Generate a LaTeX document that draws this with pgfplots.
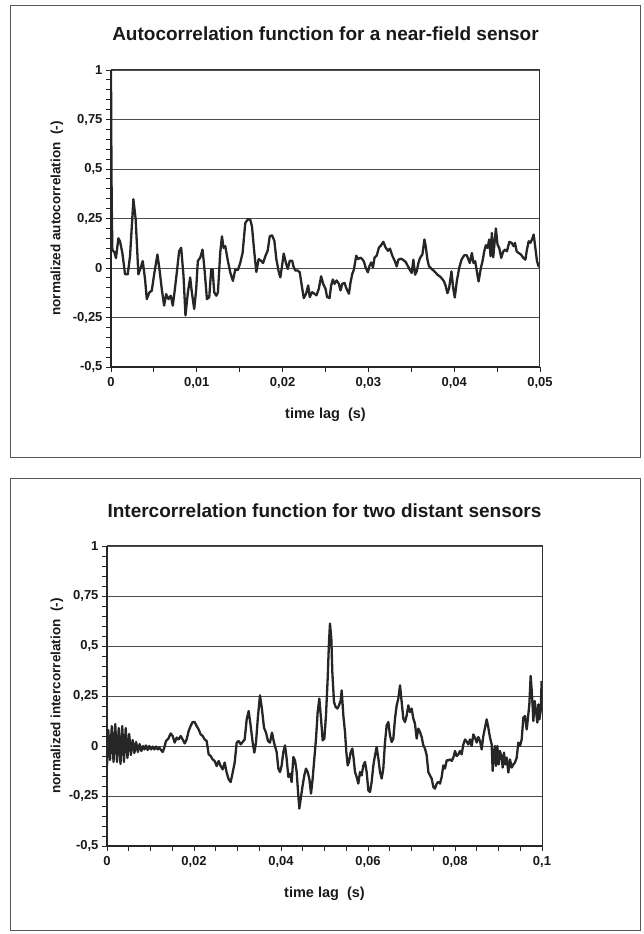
\documentclass[border=0pt]{standalone}
\usepackage{fontspec}
\setmainfont{Liberation Sans}
\usepackage{pgfplots}
\pgfplotsset{compat=1.18}

\pgfplotsset{
  corr/.style={
    scale only axis,
    axis lines*=left,
    axis line style={line width=1.7pt, black!85},
    tick align=outside,
    major tick length=5pt, minor tick length=5pt,
    every tick/.append style={black!85, line width=0.9pt},
    ymin=-0.5, ymax=1,
    ytick={-0.5,-0.25,0,0.25,0.5,0.75,1},
    yticklabels={{-0,5},{-0,25},{0},{0,25},{0,5},{0,75},{1}},
    minor y tick num=4,
    ymajorgrids,
    major grid style={black!70, line width=0.8pt},
    scaled x ticks=false,
    tick label style={font=\bfseries\fontsize{13}{15}\selectfont, black!90},
    xticklabel style={yshift=-2pt},
    title style={font=\bfseries\fontsize{19}{22}\selectfont, black!90,
      at={(axis description cs:0.5,1)}, anchor=base},
    xlabel style={font=\bfseries\fontsize{14.5}{17}\selectfont, black!90,
      at={(axis description cs:0.5,0)}, anchor=base, yshift=-52pt},
    ylabel style={font=\bfseries\fontsize{13.5}{16}\selectfont, black!90, anchor=center},
    after end axis/.code={
      \draw[black!80, line width=1pt] (rel axis cs:0,1) -- (rel axis cs:1,1) -- (rel axis cs:1,0);
    },
  },
  curve/.style={black!85, line width=2.3pt, line join=round, no markers},
}

\begin{document}
\begin{tikzpicture}
\useasboundingbox (0,0) rectangle (643pt,934pt);
\draw[black!65, line width=0.8pt] (10pt,477pt) rectangle (640pt,929pt);
\draw[black!65, line width=0.8pt] (10pt,4pt) rectangle (640pt,456pt);

% near-field sensor, autocorrelation
\begin{axis}[corr,
  at={(111pt,567pt)}, anchor=south west,
  width=429pt, height=297pt,
  xmin=0, xmax=0.05,
  xtick={0,0.01,0.02,0.03,0.04,0.05},
  xticklabels={{0},{0,01},{0,02},{0,03},{0,04},{0,05}},
  minor x tick num=1,
  title={Autocorrelation function for a near-field sensor},
  title style={yshift=23pt},
  xlabel={time lag\ \ (s)},
  ylabel={normalized autocorrelation\ \ (-)},
  ylabel style={at={(axis description cs:-0.126,0.5)}},
]
\addplot[curve] table {
0 1.0
0.00004 0.62
0.00008 0.34
0.00016 0.09
0.00039 0.08
0.00058 0.05
0.00086 0.15
0.00105 0.135
0.00132 0.077
0.00164 -0.032
0.00195 -0.032
0.00222 0.06
0.00261 0.347
0.00288 0.243
0.00319 -0.032
0.00347 0.002
0.00370 0.035
0.00397 -0.057
0.00417 -0.157
0.00448 -0.123
0.00475 -0.115
0.00506 -0.023
0.00541 0.068
0.00565 -0.007
0.00592 -0.107
0.00619 -0.19
0.00643 -0.132
0.00670 -0.157
0.00697 -0.14
0.00720 -0.19
0.00740 -0.123
0.00767 -0.023
0.00794 0.085
0.00818 0.102
0.00845 -0.04
0.00868 -0.24
0.00896 -0.123
0.00923 -0.048
0.00942 -0.123
0.00970 -0.207
0.00993 -0.107
0.01012 0.035
0.01040 0.052
0.01067 0.093
0.01090 -0.007
0.01118 -0.157
0.01145 -0.148
0.01168 -0.007
0.01184 -0.007
0.01203 -0.123
0.01227 -0.14
0.01246 -0.123
0.01273 0.077
0.01293 0.16
0.01312 0.102
0.01332 0.11
0.01359 0.043
0.01390 -0.023
0.01421 -0.065
0.01449 -0.007
0.01480 -0.01
0.01507 0.027
0.01534 0.077
0.01565 0.227
0.01597 0.247
0.01624 0.243
0.01643 0.21
0.01670 0.08
0.01694 -0.02
0.01721 0.045
0.01748 0.037
0.01772 0.025
0.01799 0.06
0.01826 0.087
0.01850 0.16
0.01877 0.165
0.01904 0.137
0.01927 0.045
0.01955 -0.02
0.01974 -0.047
0.01994 0.012
0.02013 0.073
0.02037 0.028
0.02060 -0.005
0.02084 0.037
0.02111 0.037
0.02130 0.003
0.02150 -0.013
0.02177 -0.013
0.02200 -0.022
0.02220 -0.08
0.02247 -0.152
0.02274 -0.13
0.02298 -0.088
0.02317 -0.147
0.02344 -0.122
0.02371 -0.13
0.02395 -0.138
0.02422 -0.105
0.02449 -0.042
0.02473 -0.08
0.02500 -0.105
0.02519 -0.147
0.02547 -0.152
0.02566 -0.088
0.02586 -0.058
0.02605 -0.08
0.02629 -0.063
0.02656 -0.08
0.02675 -0.113
0.02695 -0.08
0.02722 -0.075
0.02745 -0.105
0.02773 -0.13
0.02792 -0.072
0.02812 -0.03
0.02831 -0.008
0.02858 0.062
0.02878 0.045
0.02909 0.052
0.02928 0.045
0.02948 0.032
0.02967 0.003
0.02994 -0.022
0.03014 0.012
0.03033 0.028
0.03053 0.003
0.03072 0.053
0.03096 0.062
0.03123 0.103
0.03143 0.112
0.03174 0.132
0.03201 0.103
0.03228 0.087
0.03251 0.098
0.03279 0.062
0.03306 0.037
0.03330 0.008
0.03349 0.042
0.03376 0.047
0.03403 0.042
0.03435 0.03
0.03462 0.008
0.03481 -0.008
0.03505 -0.025
0.03524 0.042
0.03544 -0.034
0.03563 -0.017
0.03583 0.025
0.03602 0.051
0.03629 0.068
0.03653 0.144
0.03668 0.11
0.03688 0.042
0.03707 0.008
0.03727 0
0.03746 -0.008
0.03777 -0.02
0.03805 -0.034
0.03843 -0.046
0.03882 -0.068
0.03902 -0.093
0.03921 -0.127
0.03941 -0.101
0.03968 -0.017
0.03988 -0.101
0.04007 -0.149
0.04030 -0.068
0.04058 0
0.04085 0.042
0.04116 0.064
0.04147 0.064
0.04167 0.042
0.04182 0.025
0.04206 0.076
0.04225 0.025
0.04245 0.034
0.04264 -0.017
0.04284 -0.068
0.04311 0
0.04330 0.034
0.04350 0.084
0.04369 0.115
0.04389 0.101
0.04408 0.144
0.04424 0.059
0.04439 0.177
0.04455 0.054
0.04474 0.144
0.04486 0.2
0.04505 0.118
0.04525 0.101
0.04548 0.051
0.04572 0.084
0.04595 0.093
0.04615 0.084
0.04642 0.132
0.04669 0.127
0.04693 0.11
0.04708 0.127
0.04728 0.084
0.04751 0.076
0.04778 0.068
0.04805 0.051
0.04829 0.042
0.04848 0.093
0.04868 0.135
0.04887 0.127
0.04907 0.144
0.04926 0.169
0.04946 0.101
0.04965 0.034
0.04984 0.008
0.05000 0.008
};
\end{axis}

% two distant sensors, intercorrelation
\begin{axis}[corr,
  at={(107pt,88pt)}, anchor=south west,
  width=435pt, height=300pt,
  xmin=0, xmax=0.1,
  xtick={0,0.02,0.04,0.06,0.08,0.1},
  xticklabels={{0},{0,02},{0,04},{0,06},{0,08},{0,1}},
  minor x tick num=3,
  title={Intercorrelation function for two distant sensors},
  title style={yshift=22pt},
  xlabel={time lag\ \ (s)},
  ylabel={normalized intercorrelation\ \ (-)},
  ylabel style={at={(axis description cs:-0.115,0.5)}},
]
\addplot[curve] table {
0 -0.1
0.0003 0.08
0.0007 -0.07
0.0011 0.1
0.0015 -0.08
0.0019 0.11
0.0023 -0.08
0.0027 0.09
0.0031 -0.09
0.0035 0.1
0.0039 -0.08
0.0043 0.09
0.0047 -0.06
0.0051 0.06
0.0055 -0.045
0.0059 0.03
0.0063 -0.035
0.0067 0.02
0.0071 -0.03
0.0075 0.01
0.0079 -0.025
0.0083 0
0.00865 -0.017
0.00897 0.003
0.00935 -0.02
0.00973 0
0.01012 -0.017
0.01050 -0.003
0.01088 -0.017
0.01126 -0.003
0.01165 -0.017
0.01203 -0.008
0.01241 -0.02
0.01280 -0.03
0.01318 -0.008
0.01356 0.025
0.01410 0.037
0.01464 0.063
0.01510 0.05
0.01556 0.017
0.01602 0.042
0.01648 0.033
0.01693 0.05
0.01739 0.033
0.01785 0.013
0.01831 0.033
0.01877 0.075
0.01923 0.1
0.01969 0.12
0.02015 0.12
0.02061 0.1
0.02107 0.083
0.02153 0.058
0.02199 0.05
0.02245 0.033
0.02291 0.025
0.02337 -0.042
0.02383 -0.05
0.02429 -0.067
0.02475 -0.075
0.02521 -0.1
0.02567 -0.075
0.02613 -0.1
0.02659 -0.117
0.02705 -0.083
0.02751 -0.133
0.02797 -0.167
0.02843 -0.18
0.02889 -0.133
0.02935 -0.083
0.02981 0.017
0.03027 0.025
0.03073 0.008
0.03119 0.02
0.03165 0.033
0.03211 0.133
0.03257 0.175
0.03303 0.1
0.03349 0.017
0.03387 -0.033
0.03425 0.017
0.03471 0.15
0.03517 0.253
0.03563 0.183
0.03609 0.092
0.03655 0.067
0.03701 0.025
0.03747 0.017
0.03793 0.067
0.03839 0.017
0.03900 -0.03
0.03939 -0.113
0.03977 -0.13
0.04015 -0.097
0.04054 -0.03
0.04092 0.003
0.04130 -0.063
0.04169 -0.155
0.04207 -0.138
0.04245 -0.18
0.04284 -0.055
0.04322 -0.072
0.04360 -0.13
0.04398 -0.247
0.04421 -0.313
0.04460 -0.255
0.04498 -0.197
0.04536 -0.147
0.04575 -0.113
0.04613 -0.13
0.04651 -0.163
0.04690 -0.238
0.04728 -0.163
0.04766 -0.063
0.04805 0.037
0.04843 0.17
0.04881 0.237
0.04920 0.137
0.04958 0.028
0.04996 0.037
0.05034 0.153
0.05073 0.337
0.05103 0.52
0.05126 0.612
0.05157 0.537
0.05180 0.37
0.05218 0.22
0.05257 0.195
0.05295 0.187
0.05333 0.203
0.05372 0.228
0.05395 0.278
0.05433 0.153
0.05471 0.07
0.05502 -0.03
0.05533 -0.097
0.05563 -0.08
0.05602 -0.03
0.05640 -0.013
0.05670 -0.063
0.05701 -0.13
0.05739 -0.155
0.05778 -0.188
0.05816 -0.13
0.05854 -0.147
0.05893 -0.097
0.05931 -0.08
0.05969 -0.13
0.06008 -0.222
0.06046 -0.23
0.06084 -0.18
0.06123 -0.097
0.06161 -0.047
0.06199 -0.005
0.06238 -0.063
0.06276 -0.13
0.06314 -0.163
0.06352 -0.113
0.06391 0.02
0.06429 0.103
0.06467 0.12
0.06506 0.053
0.06544 0.02
0.06582 0.037
0.06621 0.137
0.06659 0.203
0.06697 0.237
0.06736 0.303
0.06774 0.22
0.06812 0.137
0.06851 0.12
0.06889 0.153
0.06927 0.203
0.06966 0.17
0.07004 0.187
0.07042 0.137
0.07080 0.112
0.07119 0.037
0.07157 0.087
0.07195 0.07
0.07234 0.045
0.07272 0.003
0.07310 -0.013
0.07349 -0.047
0.07387 -0.13
0.07425 -0.147
0.07464 -0.163
0.07502 -0.205
0.07540 -0.213
0.07579 -0.188
0.07617 -0.18
0.07655 -0.188
0.07694 -0.155
0.07732 -0.097
0.07770 -0.113
0.07808 -0.072
0.07847 -0.072
0.07885 -0.067
0.07923 -0.075
0.07962 -0.058
0.08000 -0.025
0.08038 -0.05
0.08077 -0.042
0.08115 -0.025
0.08153 -0.042
0.08192 0.008
0.08230 0.033
0.08268 0.022
0.08307 0.008
0.08345 0.033
0.08383 0
0.08421 0.058
0.08460 0.042
0.08498 0.017
0.08536 0.045
0.08575 0.025
0.08613 -0.017
0.08651 0.05
0.08690 0.092
0.08728 0.133
0.08766 0.092
0.08805 0.042
0.08843 0.008
0.08866 -0.125
0.08897 -0.025
0.08920 0
0.08943 -0.1
0.08973 0
0.09004 -0.092
0.09034 -0.025
0.09073 -0.058
0.09096 -0.108
0.09126 -0.033
0.09157 -0.092
0.09188 -0.058
0.09226 -0.133
0.09264 -0.067
0.09303 -0.108
0.09341 -0.092
0.09379 -0.083
0.09418 -0.058
0.09456 0.017
0.09494 0
0.09533 0.033
0.09571 0.142
0.09609 0.15
0.09648 0.083
0.09678 0.142
0.09709 0.208
0.09739 0.35
0.09770 0.258
0.09801 0.125
0.09831 0.225
0.09862 0.175
0.09893 0.117
0.09916 0.208
0.09939 0.133
0.09969 0.175
0.09992 0.325
};
\end{axis}
\end{tikzpicture}
\end{document}
